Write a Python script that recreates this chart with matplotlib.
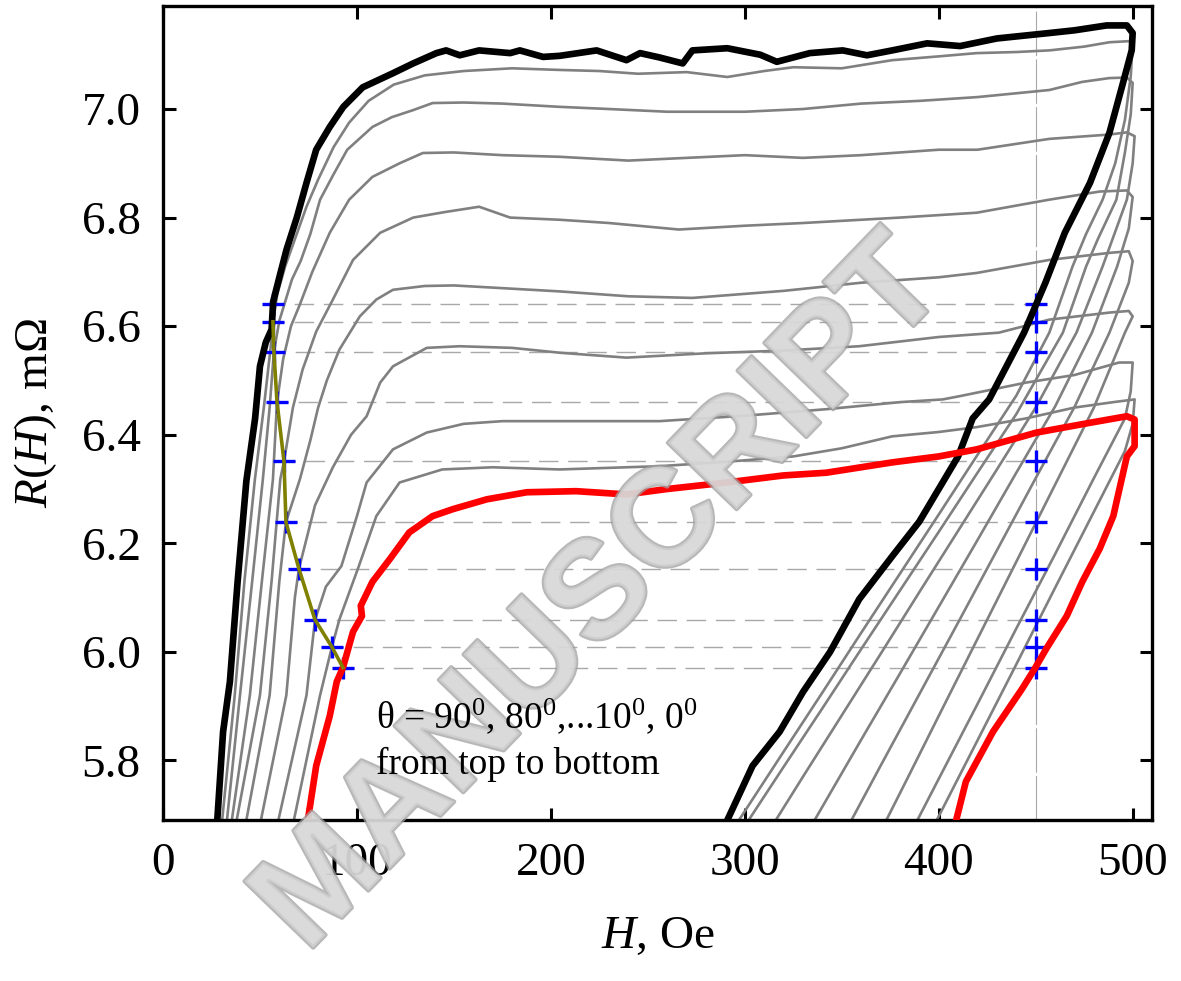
import numpy as np
import matplotlib
matplotlib.use("Agg")
from matplotlib import pyplot as plt
from matplotlib import patheffects as pe

plt.rcParams['font.family'] = ['Liberation Serif', 'DejaVu Serif']
plt.rcParams['mathtext.fontset'] = 'custom'
plt.rcParams['mathtext.rm'] = 'Liberation Serif'
plt.rcParams['mathtext.it'] = 'Liberation Serif:italic'

# --- data: R(H) loops for theta = 90 ... 0 deg (H in Oe, R in mOhm) ---
H90 = [28, 31, 34.5, 38.5, 43, 47.5, 50, 53, 56, 56.8, 60, 63.7, 69, 74, 79, 86, 93, 103, 118.6, 129, 141,
       146, 153, 163, 179, 184, 196, 204.6, 223.6, 239, 246, 256, 268, 273, 291, 308, 316.5, 333.5, 350.5,
       363, 376, 394, 411, 430, 457, 470, 486.6, 497, 500,
       499.5, 495, 488, 478, 465, 455, 444, 426, 417.5, 410, 402, 390, 376, 359, 344, 330, 318, 304, 291, 288]
R90 = [5.69, 5.853, 5.945, 6.13, 6.315, 6.43, 6.526, 6.57, 6.594, 6.645, 6.69, 6.741, 6.80, 6.864, 6.925, 6.967, 7.004, 7.04, 7.066, 7.084, 7.103,
       7.108, 7.099, 7.108, 7.103, 7.108, 7.096, 7.098, 7.108, 7.09, 7.103, 7.095, 7.084, 7.108, 7.112, 7.10, 7.087, 7.103, 7.108,
       7.099, 7.108, 7.121, 7.116, 7.13, 7.14, 7.145, 7.154, 7.154, 7.14,
       7.108, 7.048, 6.956, 6.864, 6.772, 6.68, 6.588, 6.465, 6.43, 6.36, 6.312, 6.24, 6.176, 6.097, 6.0, 5.926, 5.853, 5.79, 5.69, 5.67]

H80 = [30.5, 37, 42, 47.4, 52, 55.5, 56.7, 59, 63, 68, 74, 80, 88, 96, 106, 119, 135, 155,
       180, 204.6, 225, 245, 270, 291, 310, 325, 350, 376, 400, 419.6, 440, 457, 475, 488, 498, 500,
       499, 496, 491, 484.5, 476, 469, 457, 440, 420, 400, 380, 360, 340, 320, 297, 294]
R80 = [5.69, 5.92, 6.13, 6.318, 6.45, 6.56, 6.608, 6.66, 6.71, 6.76, 6.82, 6.87, 6.93, 6.975, 7.015, 7.045, 7.062, 7.07,
       7.075, 7.072, 7.07, 7.065, 7.068, 7.059, 7.07, 7.077, 7.075, 7.09, 7.097, 7.103, 7.105, 7.108, 7.115, 7.123, 7.125, 7.12,
       7.06, 6.98, 6.90, 6.833, 6.77, 6.71, 6.588, 6.472, 6.363, 6.253, 6.144, 6.035, 5.925, 5.816, 5.69, 5.67]

H70 = [33, 39.7, 46, 51.5, 55, 57.2, 60, 66.5, 71, 76, 81, 88, 95, 108, 118, 129, 139, 155,
       175, 204.6, 230, 260, 300, 330, 360, 390, 420, 457, 474, 488, 497, 500,
       499, 496, 491.6, 482, 476, 464, 440, 420, 400, 380, 360, 340, 320, 302, 299]
R70 = [5.69, 5.92, 6.13, 6.318, 6.45, 6.553, 6.61, 6.686, 6.72, 6.77, 6.833, 6.88, 6.925, 6.967, 6.985, 6.998, 7.011, 7.012,
       7.01, 7.004, 7.0, 6.995, 6.995, 7.0, 7.01, 7.015, 7.022, 7.035, 7.05, 7.057, 7.058, 7.048,
       6.99, 6.92, 6.833, 6.76, 6.71, 6.588, 6.438, 6.33, 6.221, 6.113, 6.005, 5.896, 5.788, 5.69, 5.67]

H60 = [35.5, 44.8, 51, 56.7, 58.8, 62, 66, 70.6, 77, 86, 96, 108, 122, 134, 150,
       175, 204.6, 240, 270, 300, 330, 360, 400, 420, 457, 488, 497, 501,
       500, 497, 484.5, 471, 450, 430, 410, 390, 370, 350, 330, 316, 313]
R60 = [5.69, 5.92, 6.13, 6.318, 6.46, 6.54, 6.60, 6.64, 6.70, 6.772, 6.833, 6.875, 6.90, 6.919, 6.92,
       6.915, 6.912, 6.905, 6.91, 6.915, 6.91, 6.915, 6.925, 6.925, 6.945, 6.953, 6.957, 6.95,
       6.90, 6.833, 6.71, 6.588, 6.45, 6.336, 6.223, 6.11, 5.996, 5.883, 5.77, 5.69, 5.67]

H50 = [38, 50, 56, 60.5, 62.4, 67, 72, 79, 87.6, 98, 112, 129, 145, 163,
       179, 204.6, 230, 266, 300, 330, 380, 419.6, 457, 483, 497, 500,
       498, 492, 479, 460, 440, 420, 400, 380, 360, 336, 333]
R50 = [5.69, 5.92, 6.13, 6.318, 6.351, 6.45, 6.52, 6.59, 6.649, 6.722, 6.772, 6.80, 6.81, 6.82,
       6.80, 6.796, 6.79, 6.778, 6.785, 6.79, 6.80, 6.809, 6.833, 6.848, 6.85, 6.838,
       6.78, 6.71, 6.588, 6.452, 6.33, 6.206, 6.083, 5.96, 5.838, 5.69, 5.67]

H40 = [43, 55, 60, 63.4, 70.6, 76, 80, 84.5, 91, 101.5, 110, 118.6, 135, 150,
       175, 204.6, 240, 273, 320, 360, 400, 419.6, 457, 488, 498, 500,
       498, 488, 470, 450, 430, 410, 390, 370, 355, 352]
R40 = [5.69, 5.92, 6.13, 6.239, 6.318, 6.39, 6.45, 6.50, 6.557, 6.618, 6.649, 6.667, 6.674, 6.675,
       6.67, 6.664, 6.655, 6.652, 6.665, 6.68, 6.69, 6.698, 6.722, 6.735, 6.738, 6.72,
       6.68, 6.588, 6.451, 6.32, 6.187, 6.054, 5.922, 5.79, 5.69, 5.67]

H30 = [50.5, 63.6, 68, 70.1, 78.4, 87.6, 97, 105, 112, 118.6, 136, 153,
       180, 204.6, 239, 280, 320, 359, 400, 431, 457, 488, 498, 500,
       496, 480, 460, 440, 420, 400, 385, 373, 370]
R30 = [5.69, 5.92, 6.10, 6.153, 6.27, 6.34, 6.40, 6.434, 6.496, 6.526, 6.56, 6.563,
       6.56, 6.551, 6.542, 6.55, 6.555, 6.563, 6.58, 6.588, 6.612, 6.625, 6.628, 6.618,
       6.588, 6.45, 6.308, 6.166, 6.024, 5.882, 5.775, 5.69, 5.67]

H20 = [59.5, 74, 78.4, 84, 92, 100, 105, 118.6, 136, 155, 175,
       204.6, 256, 300, 342, 380, 402, 410.8, 445, 470, 493, 500,
       499, 496, 480, 460, 440, 420, 400, 389, 386]
R20 = [5.69, 5.92, 6.059, 6.12, 6.158, 6.25, 6.312, 6.373, 6.404, 6.42, 6.425,
       6.425, 6.425, 6.435, 6.447, 6.46, 6.465, 6.471, 6.496, 6.51, 6.533, 6.533,
       6.48, 6.43, 6.32, 6.18, 6.043, 5.904, 5.766, 5.69, 5.67]

H10 = [67.5, 81, 87.1, 91, 101, 110, 122, 144, 170,
       204.6, 256, 290, 325, 350, 376, 400, 419.6, 445, 470, 490, 501,
       500, 496, 480, 460, 440, 420, 399, 396]
R10 = [5.69, 5.92, 6.009, 6.06, 6.158, 6.25, 6.312, 6.336, 6.34,
       6.336, 6.342, 6.35, 6.36, 6.375, 6.397, 6.405, 6.414, 6.43, 6.45, 6.46, 6.465,
       6.42, 6.37, 6.258, 6.118, 5.977, 5.837, 5.69, 5.67]

H0 = [74.7, 79, 86, 89.6, 92.8, 98, 102.6, 102, 108, 117, 127, 139, 149.6, 167, 187.6, 213,
      239, 260, 290.7, 320, 342, 376, 400, 419.6, 450.5, 478, 497, 501,
      501, 497, 490, 483, 474, 466, 455.5, 449.5, 443, 428, 414, 409, 407]
R0 = [5.69, 5.79, 5.882, 5.945, 5.971, 6.037, 6.066, 6.085, 6.129, 6.171, 6.22, 6.25, 6.263, 6.281, 6.294, 6.296,
      6.29, 6.30, 6.312, 6.325, 6.33, 6.349, 6.36, 6.373, 6.404, 6.422, 6.434, 6.428,
      6.379, 6.36, 6.25, 6.19, 6.129, 6.066, 6.006, 5.969, 5.932, 5.853, 5.761, 5.69, 5.67]

# blue crosses: left branch (H_left, R) and at H = 450
h_left = [56.7, 56.7, 57.2, 58.8, 62.4, 63.4, 70.1, 78.4, 87.1, 92.8]
r_mark = [6.640, 6.608, 6.553, 6.460, 6.351, 6.239, 6.153, 6.059, 6.009, 5.971]
h_right = 450

xticks = [0, 100, 200, 300, 400, 500]
yticks = [5.8, 6.0, 6.2, 6.4, 6.6, 6.8, 7.0]

fig = plt.figure(figsize=(11.81, 9.81), dpi=100)
ax = fig.add_axes([0.138, 0.164, 0.8375, 0.830])

# guide lines
for hl, r in zip(h_left, r_mark):
    ax.plot([hl - 4, h_right + 5], [r, r], color='#a8a8a8', lw=1.0,
            linestyle=(0, (14, 7)), zorder=1)
ax.axvline(h_right, color='#a8a8a8', lw=0.8, linestyle=(0, (40, 3)), zorder=1)

grays = [(H80, R80), (H70, R70), (H60, R60), (H50, R50), (H40, R40),
         (H30, R30), (H20, R20), (H10, R10)]
for h, r in grays:
    ax.plot(h, r, color='#808080', lw=1.9, zorder=2)

ax.plot(h_left, r_mark, linestyle='none', marker='+', ms=16, mew=2.4,
        color='#0000ff', zorder=3)
ax.plot([h_right] * len(r_mark), r_mark, linestyle='none', marker='+', ms=16,
        mew=2.4, color='#0000ff', zorder=3)

ax.plot(H90, R90, color='black', lw=4.8, zorder=4, solid_joinstyle='round')
ax.plot(H0, R0, color='#ff0000', lw=4.8, zorder=4, solid_joinstyle='round')
ax.plot(h_left[1:], r_mark[1:], color='#808000', lw=2.6, zorder=5)

ax.set_xlim(0, 510)
ax.set_ylim(5.69, 7.19)
ax.set_xticks(xticks)
ax.set_yticks(yticks)
ax.set_yticklabels(['%.1f' % v for v in yticks])
ax.tick_params(direction='in', length=9, width=2.2, labelsize=34,
               top=True, right=True, pad=16)
for s in ax.spines.values():
    s.set_linewidth(2.4)

ax.set_xlabel(r'$H$, Oe', fontsize=34, labelpad=22)
ax.set_ylabel(r'$R$($H$), m$\Omega$', fontsize=34, labelpad=16)

# watermark
fig.text(0.51, 0.392, 'MANUSCRIPT', rotation=46, fontsize=100, fontweight='bold',
         family='Liberation Sans', color='#d8d8d8', alpha=0.75, ha='center', va='center',
         path_effects=[pe.withStroke(linewidth=3, foreground='#a0a0a0')], zorder=3)

fig.text(0.318, 0.258, 'θ = 90$^0$, 80$^0$,...10$^0$, 0$^0$', fontsize=27, zorder=6)
fig.text(0.318, 0.211, 'from top to bottom', fontsize=27, zorder=6)

fig.savefig('out.png', dpi=100)
